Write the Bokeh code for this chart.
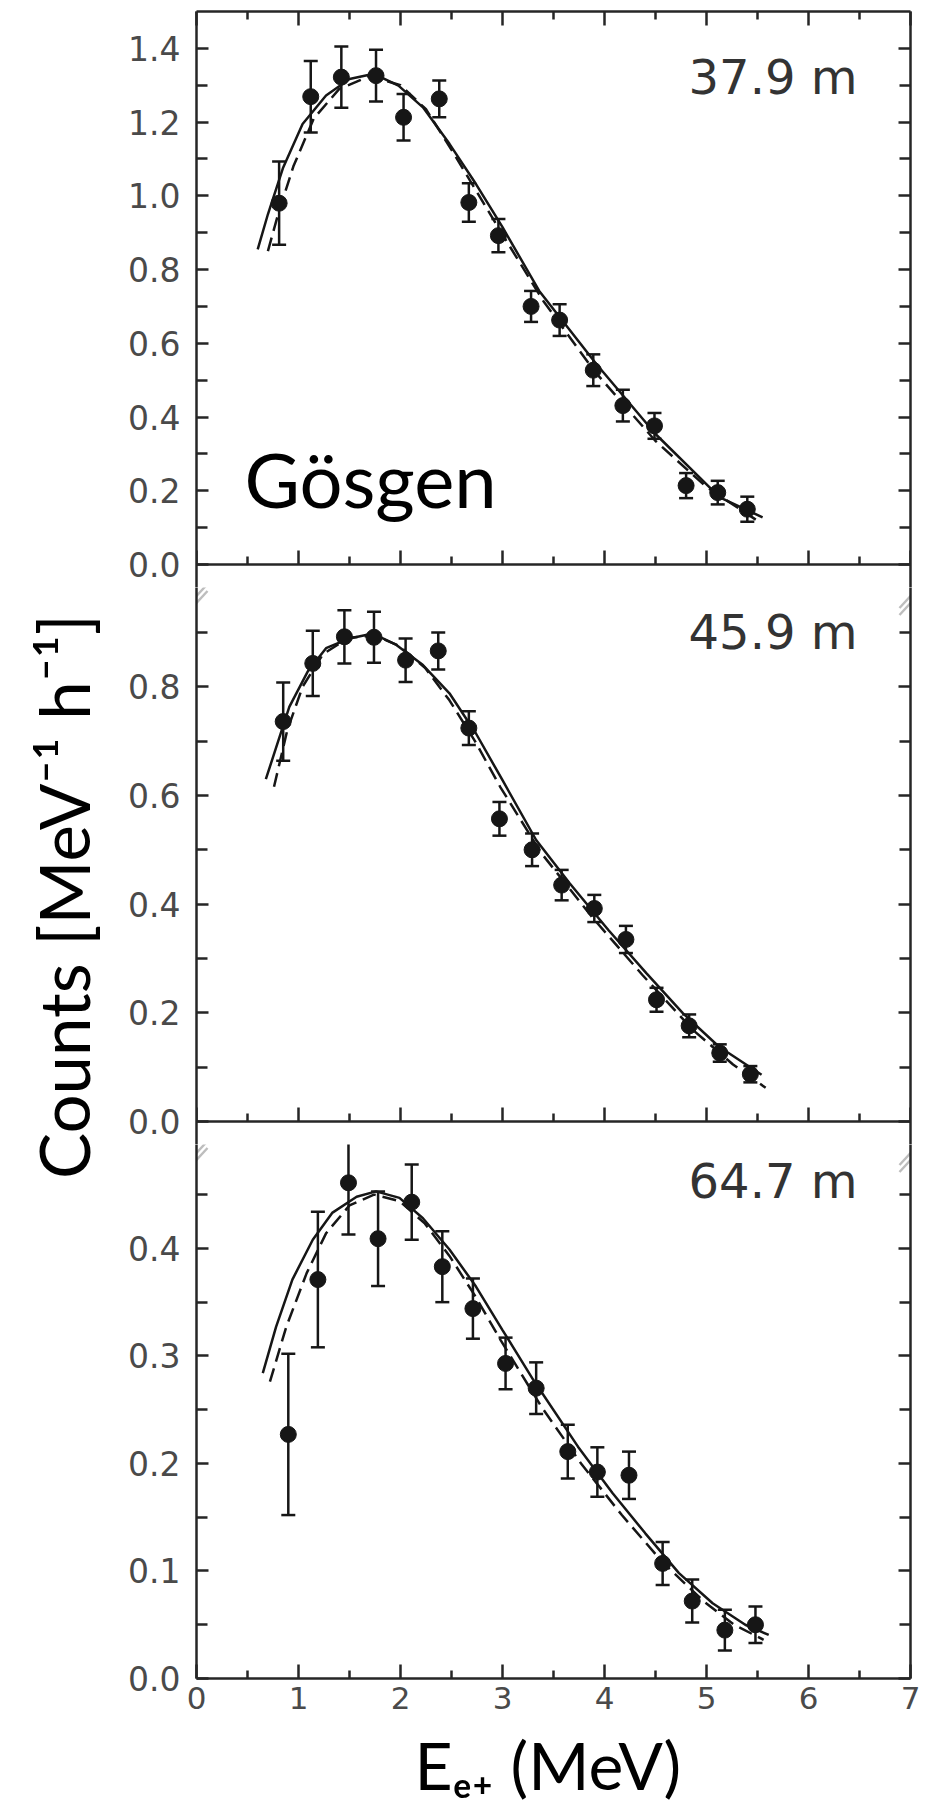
from math import pi
from bokeh.plotting import figure
from bokeh.models import (Range1d, LinearAxis, FixedTicker, NumeralTickFormatter,
                          ColumnDataSource, Whisker, TeeHead, Label, PolyAnnotation)
from bokeh.layouts import row, column
from bokeh.embed import file_html
from bokeh.resources import INLINE

# ---------------- data ----------------
# 37.9 m
x_top = [0.81, 1.12, 1.42, 1.76, 2.03, 2.38, 2.67, 2.96, 3.28, 3.56, 3.89, 4.18, 4.49, 4.80, 5.11, 5.40]
y_top = [0.980, 1.269, 1.322, 1.326, 1.213, 1.263, 0.982, 0.892, 0.700, 0.663, 0.527, 0.431, 0.376, 0.214, 0.195, 0.150]
e_top = [0.113, 0.097, 0.083, 0.070, 0.063, 0.050, 0.052, 0.045, 0.042, 0.043, 0.043, 0.043, 0.035, 0.034, 0.032, 0.034]
fit_top_x = [0.60, 0.70, 0.85, 1.04, 1.27, 1.50, 1.74, 1.98, 2.22, 2.48, 2.74, 3.00, 3.36, 3.92, 4.50, 5.13, 5.55]
fit_top_y = [0.855, 0.950, 1.077, 1.195, 1.272, 1.317, 1.331, 1.299, 1.240, 1.141, 1.032, 0.915, 0.742, 0.544, 0.354, 0.182, 0.128]
alt_top_x = [0.70, 0.80, 0.95, 1.15, 1.40, 1.70, 2.00, 2.25, 2.50, 2.75, 3.00, 3.40, 3.90, 4.50, 5.00, 5.52]
alt_top_y = [0.850, 0.950, 1.080, 1.210, 1.290, 1.325, 1.300, 1.235, 1.125, 1.010, 0.895, 0.715, 0.525, 0.335, 0.210, 0.115]

# 45.9 m
x_mid = [0.85, 1.14, 1.45, 1.74, 2.05, 2.37, 2.67, 2.97, 3.29, 3.58, 3.90, 4.21, 4.51, 4.83, 5.13, 5.43]
y_mid = [0.736, 0.843, 0.892, 0.891, 0.849, 0.866, 0.724, 0.557, 0.500, 0.435, 0.392, 0.335, 0.224, 0.176, 0.126, 0.087]
e_mid = [0.072, 0.060, 0.049, 0.047, 0.040, 0.034, 0.031, 0.031, 0.030, 0.028, 0.025, 0.025, 0.022, 0.021, 0.016, 0.015]
fit_mid_x = [0.68, 0.91, 1.09, 1.27, 1.50, 1.73, 1.96, 2.22, 2.48, 2.74, 3.00, 3.33, 3.66, 4.04, 4.41, 4.77, 5.12, 5.54]
fit_mid_y = [0.630, 0.763, 0.828, 0.871, 0.889, 0.898, 0.877, 0.840, 0.788, 0.714, 0.628, 0.518, 0.438, 0.352, 0.273, 0.199, 0.138, 0.086]
alt_mid_x = [0.76, 0.89, 1.04, 1.24, 1.49, 1.74, 1.99, 2.24, 2.48, 2.73, 2.98, 3.38, 3.87, 4.37, 4.87, 5.26, 5.58]
alt_mid_y = [0.616, 0.720, 0.800, 0.860, 0.890, 0.895, 0.875, 0.835, 0.775, 0.700, 0.615, 0.494, 0.378, 0.270, 0.168, 0.105, 0.062]

# 64.7 m
x_bot = [0.90, 1.19, 1.49, 1.78, 2.11, 2.41, 2.71, 3.03, 3.33, 3.64, 3.93, 4.24, 4.57, 4.86, 5.18, 5.48]
y_bot = [0.227, 0.371, 0.461, 0.409, 0.443, 0.383, 0.344, 0.293, 0.270, 0.211, 0.192, 0.189, 0.107, 0.072, 0.045, 0.050]
e_bot = [0.075, 0.063, 0.048, 0.044, 0.035, 0.033, 0.028, 0.024, 0.024, 0.025, 0.023, 0.022, 0.020, 0.020, 0.019, 0.017]
fit_bot_x = [0.65, 0.78, 0.94, 1.14, 1.33, 1.57, 1.76, 1.99, 2.22, 2.48, 2.74, 3.00, 3.30, 3.74, 4.08, 4.40, 4.73, 5.06, 5.38, 5.61]
fit_bot_y = [0.284, 0.327, 0.371, 0.408, 0.433, 0.448, 0.453, 0.447, 0.428, 0.399, 0.3645, 0.324, 0.278, 0.2156, 0.1723, 0.135, 0.098, 0.070, 0.050, 0.0405]
alt_bot_x = [0.72, 0.88, 1.08, 1.27, 1.50, 1.74, 1.99, 2.24, 2.48, 2.73, 2.98, 3.38, 3.77, 4.17, 4.57, 4.97, 5.27, 5.56]
alt_bot_y = [0.276, 0.327, 0.377, 0.414, 0.440, 0.450, 0.444, 0.423, 0.393, 0.356, 0.315, 0.253, 0.200, 0.152, 0.108, 0.072, 0.050, 0.036]

panel_names = ["37.9 m", "45.9 m", "64.7 m"]
panel_top = [1.5, 1.025, 0.518]          # value reached at the top of each panel
y_major_ticks = [[0.0, 0.2, 0.4, 0.6, 0.8, 1.0, 1.2, 1.4],
                 [0.0, 0.2, 0.4, 0.6, 0.8],
                 [0.0, 0.1, 0.2, 0.3, 0.4]]
y_minor_ticks = [[0.1, 0.3, 0.5, 0.7, 0.9, 1.1, 1.3],
                 [0.1, 0.3, 0.5, 0.7, 0.9],
                 [0.05, 0.15, 0.25, 0.35, 0.45]]
x_major_ticks = [0, 1, 2, 3, 4, 5, 6, 7]
x_minor_ticks = [0.5, 1.5, 2.5, 3.5, 4.5, 5.5, 6.5]

# ---------------- layout constants (pixels) ----------------
INK = "#161616"
AX = "#262626"
TICKC = "#4a4a4a"
TICKFONT = "DejaVu Sans"
BIGFONT = "Lato"

W_LEFT = 110
W_MAIN = 925 - W_LEFT
B_LEFT = 86
B_RIGHT = 15
FRAME_W = W_MAIN - B_LEFT - B_RIGHT
PPX = FRAME_W / 7.0

zero_px = [564, 1121, 1678]       # where 0.0 of each panel lies
top_px = [11, 564, 1121]          # where panel_top of each panel lies
canvas = [0, 587, 1144, 1723, 1804]
frame_top = [11, 587, 1144]
frame_bot = [587, 1144, 1678]
label_shift = [-2, 0, -8]


def style_axis(ax, show_labels, tin, tmin, standoff=15, size="33px"):
    ax.axis_line_color = AX
    ax.axis_line_width = 2.5
    ax.major_tick_in = tin
    ax.major_tick_out = 0
    ax.minor_tick_in = tmin
    ax.minor_tick_out = 0
    ax.major_tick_line_color = AX
    ax.minor_tick_line_color = AX
    ax.major_tick_line_width = 2.5
    ax.minor_tick_line_width = 2.5
    if show_labels:
        ax.major_label_text_font = TICKFONT
        ax.major_label_text_font_size = size
        ax.major_label_text_color = TICKC
        ax.major_label_standoff = standoff
    else:
        ax.major_label_text_color = None
        ax.major_label_text_font_size = "0px"
        ax.major_label_standoff = 0


def make_panel(i, xs, ys, es, fx, fy, ax_, ay_):
    ppy = (zero_px[i] - top_px[i]) / panel_top[i]
    y0 = -(frame_bot[i] - zero_px[i]) / ppy
    y1 = (zero_px[i] - frame_top[i]) / ppy
    height = canvas[i + 1] - canvas[i]
    p = figure(width=W_MAIN, height=height, x_range=Range1d(0, 7),
               y_range=Range1d(y0, y1), output_backend="svg",
               toolbar_location=None, x_axis_location=None, y_axis_location=None,
               min_border_left=B_LEFT, min_border_right=B_RIGHT,
               min_border_top=frame_top[i] - canvas[i],
               min_border_bottom=canvas[i + 1] - frame_bot[i])
    p.outline_line_color = None
    p.grid.visible = False

    left = LinearAxis(ticker=FixedTicker(ticks=y_major_ticks[i], minor_ticks=y_minor_ticks[i]),
                      formatter=NumeralTickFormatter(format="0.0"))
    style_axis(left, True, 12, 11, standoff=16)
    p.add_layout(left, "left")
    right = LinearAxis(ticker=FixedTicker(ticks=y_major_ticks[i], minor_ticks=y_minor_ticks[i]))
    style_axis(right, False, 12, 11)
    p.add_layout(right, "right")

    bottom = LinearAxis(ticker=FixedTicker(ticks=x_major_ticks, minor_ticks=x_minor_ticks))
    style_axis(bottom, i == 2, 14, 8, standoff=8, size="31px")
    if i < 2:
        bottom.fixed_location = 0
    p.add_layout(bottom, "below")
    if i == 0:
        top = LinearAxis(ticker=FixedTicker(ticks=x_major_ticks, minor_ticks=x_minor_ticks))
        style_axis(top, False, 14, 8)
        p.add_layout(top, "above")

    # fitted spectra
    p.line(fx, fy, line_color=INK, line_width=2.5)
    p.line(ax_, ay_, line_color=INK, line_width=2.5, line_dash="14 7")

    # data with error bars
    src = ColumnDataSource(dict(x=xs, y=ys,
                                upper=[a + b for a, b in zip(ys, es)],
                                lower=[a - b for a, b in zip(ys, es)]))
    w = Whisker(base="x", upper="upper", lower="lower", source=src, dimension="height",
                line_color=INK, line_width=2.5,
                upper_head=TeeHead(size=14, line_color=INK, line_width=2.5),
                lower_head=TeeHead(size=14, line_color=INK, line_width=2.5))
    p.add_layout(w)
    p.scatter("x", "y", source=src, size=16, fill_color=INK, line_color=INK)

    # distance label (anchor compensates the label's vertical offset)
    label_px = top_px[i] + 67.5 + label_shift[i]
    p.add_layout(Label(x=6.48, y=(zero_px[i] - label_px) / ppy, text=panel_names[i],
                       text_align="right", text_baseline="alphabetic", text_font=TICKFONT,
                       text_font_size="48px", text_color="#333333"))

    # axis-break marks just below the previous panel's zero line
    if i > 0:
        yb = (zero_px[i] - (top_px[i] + 35)) / ppy
        for xb in (0, 7):
            for off in (-3.5, 3.5):
                p.add_layout(PolyAnnotation(
                    xs=[xb - 11 / PPX, xb + 11 / PPX],
                    ys=[yb + (off - 12) / ppy, yb + (off + 12) / ppy],
                    fill_color=None, line_color=AX, line_width=2.4))
    return p, ppy


p1, s1 = make_panel(0, x_top, y_top, e_top, fit_top_x, fit_top_y, alt_top_x, alt_top_y)
p2, s2 = make_panel(1, x_mid, y_mid, e_mid, fit_mid_x, fit_mid_y, alt_mid_x, alt_mid_y)
p3, s3 = make_panel(2, x_bot, y_bot, e_bot, fit_bot_x, fit_bot_y, alt_bot_x, alt_bot_y)

p1.add_layout(Label(x=0.47, y=(zero_px[0] - 478) / s1, text="Gösgen", text_align="left",
                    text_baseline="alphabetic", text_font=BIGFONT,
                    text_font_size="76px", text_color="black"))

# left strip carrying the shared y-axis title
p0 = figure(width=W_LEFT, height=1804, x_range=Range1d(0, W_LEFT), y_range=Range1d(0, 1804),
            output_backend="svg", toolbar_location=None, x_axis_location=None,
            y_axis_location=None, min_border=0)
p0.outline_line_color = None
p0.grid.visible = False
p0.add_layout(Label(x=63, y=908, text="Counts [MeV⁻¹ h⁻¹]", angle=pi / 2,
                    text_align="center", text_baseline="alphabetic",
                    text_font=BIGFONT, text_font_size="69px", text_color="black"))

# bottom strip carrying the x-axis title
H4 = canvas[4] - canvas[3]
p4 = figure(width=W_MAIN, height=H4, x_range=Range1d(0, W_MAIN), y_range=Range1d(0, H4),
            output_backend="svg", toolbar_location=None, x_axis_location=None,
            y_axis_location=None, min_border=0)
p4.outline_line_color = None
p4.grid.visible = False
p4.add_layout(Label(x=401, y=H4 / 2, text="Eₑ₊ (MeV)", text_align="center",
                    text_baseline="alphabetic", text_font=BIGFONT,
                    text_font_size="66px", text_color="black"))

layout = row(p0, column(p1, p2, p3, p4))
open("out.html", "w").write(file_html(layout, INLINE))
